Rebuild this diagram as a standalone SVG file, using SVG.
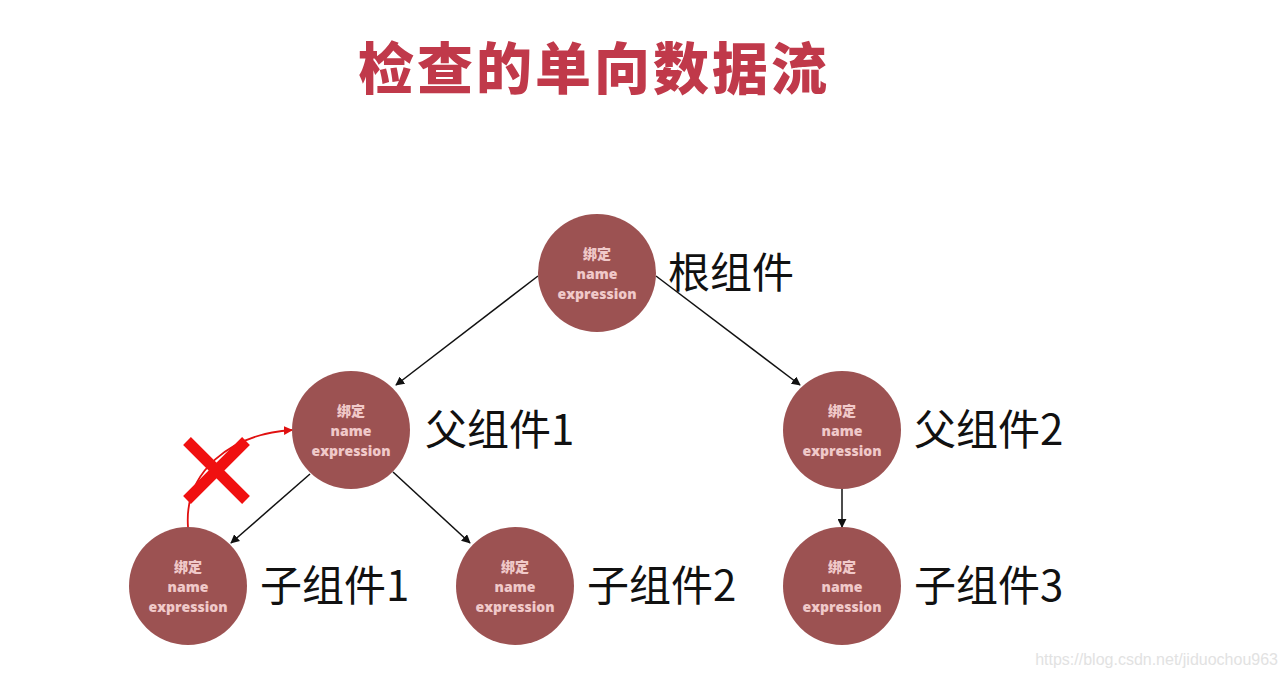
<svg xmlns="http://www.w3.org/2000/svg" width="1287" height="678" viewBox="0 0 1287 678">
<defs>
<style>
.node{fill:#9c5252;}
.nt{font-family:"Open Sans","Noto Sans CJK SC",sans-serif;font-weight:800;font-size:14px;fill:#f0c9c9;text-anchor:middle;}
.lbl{font-family:"Noto Sans CJK SC","Liberation Sans",sans-serif;font-size:42px;fill:#111;}
.ln{stroke:#111;stroke-width:1.5;fill:none;marker-end:url(#ah);}
</style>
<marker id="ah" viewBox="0 0 10 10" refX="9" refY="5" markerWidth="9" markerHeight="9" markerUnits="userSpaceOnUse" orient="auto"><path d="M0,0L10,5L0,10z" fill="#111"/></marker>
<marker id="ahr" viewBox="0 0 10 10" refX="9" refY="5" markerWidth="9" markerHeight="9" markerUnits="userSpaceOnUse" orient="auto"><path d="M0,0L10,5L0,10z" fill="#e01010"/></marker>
</defs>
<rect width="1287" height="678" fill="#fff"/>
<text x="594" y="89" text-anchor="middle" font-family="'Noto Sans CJK SC',sans-serif" font-weight="900" font-size="56" letter-spacing="3" fill="#c0394a">检查的单向数据流</text>
<g id="connectors">
<line class="ln" x1="538" y1="276" x2="396" y2="385"/>
<line class="ln" x1="656" y1="276" x2="800" y2="385"/>
<line class="ln" x1="310" y1="474" x2="231" y2="543"/>
<line class="ln" x1="393" y1="472" x2="470" y2="543"/>
<line class="ln" x1="842" y1="489" x2="842" y2="527"/>
<path d="M188 527 C184 472 230 434 292 430" stroke="#e01010" stroke-width="1.8" fill="none" marker-end="url(#ahr)"/>
<g stroke="#f01010" stroke-width="11"><line x1="187" y1="441" x2="246" y2="500"/><line x1="246" y1="441" x2="187" y2="500"/></g>
</g>
<g id="root"><circle class="node" cx="597" cy="273" r="59"/><text class="nt" x="597" y="259">绑定</text><text class="nt" x="597" y="279">name</text><text class="nt" x="597" y="299">expression</text><text class="lbl" x="668" y="288">根组件</text></g>
<g id="parent1"><circle class="node" cx="351" cy="430" r="59"/><text class="nt" x="351" y="416">绑定</text><text class="nt" x="351" y="436">name</text><text class="nt" x="351" y="456">expression</text><text class="lbl" x="425" y="445">父组件1</text></g>
<g id="parent2"><circle class="node" cx="842" cy="430" r="59"/><text class="nt" x="842" y="416">绑定</text><text class="nt" x="842" y="436">name</text><text class="nt" x="842" y="456">expression</text><text class="lbl" x="914" y="445">父组件2</text></g>
<g id="child1"><circle class="node" cx="188" cy="586" r="59"/><text class="nt" x="188" y="572">绑定</text><text class="nt" x="188" y="592">name</text><text class="nt" x="188" y="612">expression</text><text class="lbl" x="260" y="601">子组件1</text></g>
<g id="child2"><circle class="node" cx="515" cy="586" r="59"/><text class="nt" x="515" y="572">绑定</text><text class="nt" x="515" y="592">name</text><text class="nt" x="515" y="612">expression</text><text class="lbl" x="587" y="601">子组件2</text></g>
<g id="child3"><circle class="node" cx="842" cy="586" r="59"/><text class="nt" x="842" y="572">绑定</text><text class="nt" x="842" y="592">name</text><text class="nt" x="842" y="612">expression</text><text class="lbl" x="914" y="601">子组件3</text></g>
<text x="1278" y="665" text-anchor="end" font-family="'Liberation Sans',sans-serif" font-size="16" fill="#e2e2e2">https://blog.csdn.net/jiduochou963</text>
</svg>
